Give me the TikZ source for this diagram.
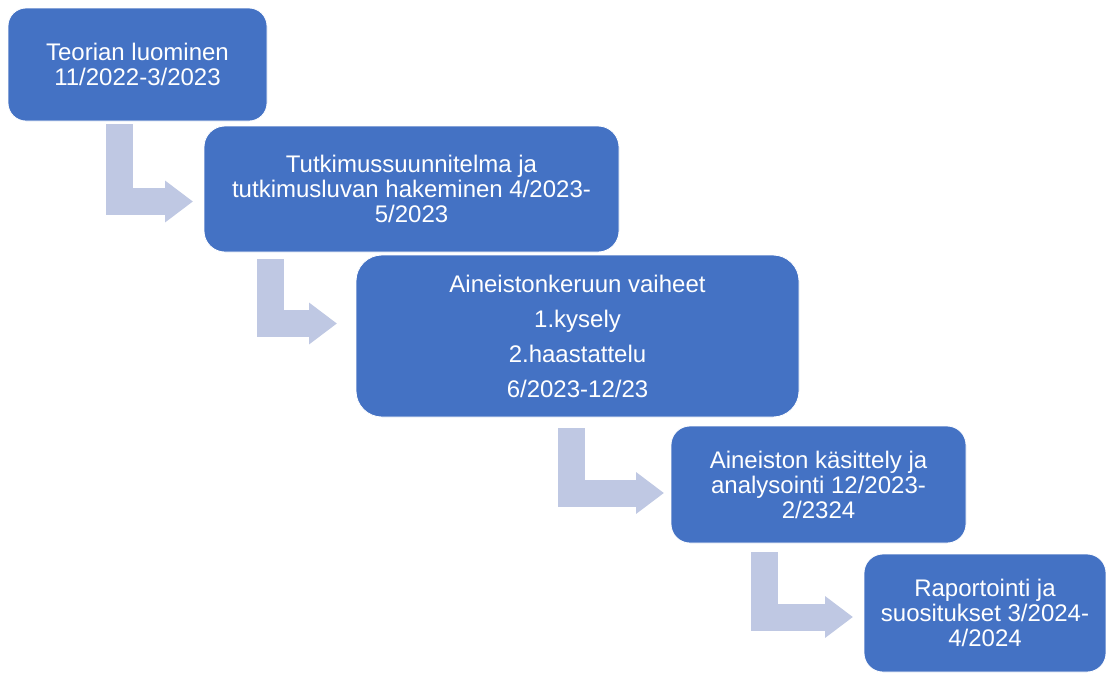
\documentclass[tikz,border=0pt]{standalone}
\usepackage{fontspec}
\setmainfont{Liberation Sans}
\usetikzlibrary{arrows.meta,calc}
\definecolor{boxblue}{HTML}{4472C4}
\definecolor{arrowblue}{HTML}{BFC8E3}
\begin{document}
\begin{tikzpicture}[x=1pt,y=-1pt,
  phase/.style={fill=boxblue, draw=white, line width=0.8pt, text=white, align=center,
    inner sep=0pt, font=\fontsize{24}{25}\selectfont},
  flow/.style={draw=arrowblue, line width=27pt, line join=miter,
    -{Triangle[length=28pt,width=40pt]}}]
\useasboundingbox (0,0) rectangle (1106,673);
\fill[white] (0,0) rectangle (1106,673);

\node[phase, minimum width=259pt, minimum height=113pt, rounded corners=18pt] (p1) at (137.5,64.5)
  {Teorian luominen\\11/2022-3/2023};
\node[phase, minimum width=415pt, minimum height=126pt, rounded corners=21pt] (p2) at (411.5,189)
  {Tutkimussuunnitelma ja\\tutkimusluvan hakeminen 4/2023-\\5/2023};
\node[phase, minimum width=443pt, minimum height=162pt, rounded corners=26pt,
  font=\fontsize{24}{35}\selectfont] (p3) at (577.5,336)
  {Aineistonkeruun vaiheet\\1.kysely\\2.haastattelu\\6/2023-12/23};
\node[phase, minimum width=295pt, minimum height=117pt, rounded corners=19pt] (p4) at (818.5,484.5)
  {Aineiston käsittely ja\\analysointi 12/2023-\\2/2324};
\node[phase, minimum width=242pt, minimum height=118pt, rounded corners=19pt] (p5) at (985,613)
  {Raportointi ja\\suositukset 3/2024-\\4/2024};

\coordinate (a1s) at (119,124);   \coordinate (a1e) at (193,201.5);
\coordinate (a2s) at (270.5,259); \coordinate (a2e) at (337,323.5);
\coordinate (a3s) at (571.5,428); \coordinate (a3e) at (664,493);
\coordinate (a4s) at (764.5,552); \coordinate (a4e) at (853,617);

\draw[flow] (a1s) |- (a1e);
\draw[flow] (a2s) |- (a2e);
\draw[flow] (a3s) |- (a3e);
\draw[flow] (a4s) |- (a4e);
\end{tikzpicture}
\end{document}
